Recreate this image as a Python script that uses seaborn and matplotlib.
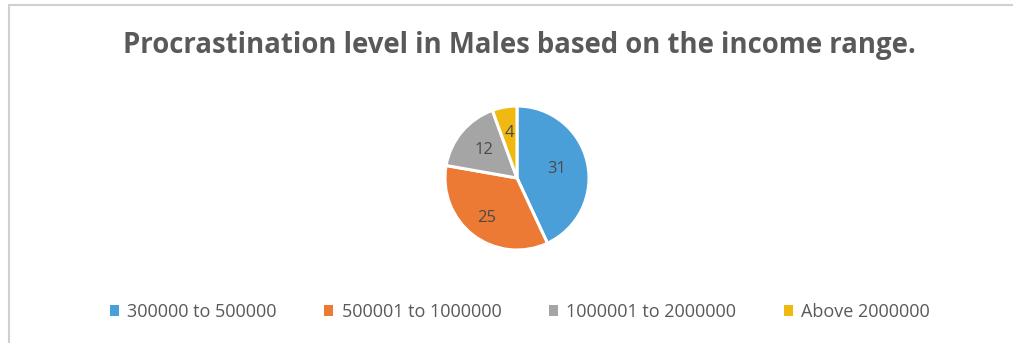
import matplotlib
matplotlib.use("Agg")
import numpy as np
import matplotlib.pyplot as plt
import seaborn as sns
from matplotlib.lines import Line2D
from matplotlib.patches import Patch

categories = ["300000 to 500000", "500001 to 1000000", "1000001 to 2000000", "Above 2000000"]
values = [31, 25, 12, 4]
colors = ["#4a9fd8", "#ec7a34", "#a5a5a5", "#f0b912"]
title = "Procrastination level in Males based on the income range."

sns.set_theme(style="white")
plt.rcParams['font.family'] = ['Open Sans', 'DejaVu Sans']

W, H = 1013, 343
fig = plt.figure(figsize=(W / 100, H / 100), dpi=100)
fig.patch.set_facecolor("white")

# border lines (top and left)
fig.add_artist(Line2D([9 / W, 1.0], [1 - 5 / H, 1 - 5 / H], color="#d0d0d0", lw=1.5))
fig.add_artist(Line2D([9 / W, 9 / W], [0, 1 - 5 / H], color="#d0d0d0", lw=1.5))

cx, cy, r = 517, 178, 72
ax = fig.add_axes([(cx - r) / W, (H - cy - r) / H, 2 * r / W, 2 * r / H])
wedges, texts = ax.pie(values, colors=colors, startangle=90, counterclock=False,
                       labels=[str(v) for v in values], labeldistance=0.62,
                       wedgeprops=dict(edgecolor="white", linewidth=2.2),
                       textprops=dict(color="#4a4a4a", fontsize=12))
# per-label radial placement (Excel "best fit" style)
label_r = [0.57, 0.7, 0.6, 0.64]
for w, t, lr in zip(wedges, texts, label_r):
    ang = np.deg2rad((w.theta1 + w.theta2) / 2)
    t.set_position((lr * np.cos(ang), lr * np.sin(ang)))
    t.set_ha("center")
    t.set_va("center")
ax.set_aspect("equal")
ax.set_xlim(-1, 1)
ax.set_ylim(-1, 1)
ax.axis("off")

fig.text(519 / W, 1 - 45 / H, title, ha="center", va="center", fontsize=19.8,
         fontweight="bold", color="#595959")

handles = [Patch(facecolor=c, edgecolor="none") for c in colors]
leg = fig.legend(handles, categories, loc="center", bbox_to_anchor=(520 / W, 1 - 312 / H),
                 ncol=4, frameon=False, fontsize=13, handlelength=0.5, handleheight=0.5,
                 handletextpad=0.45, columnspacing=2.65)
for t in leg.get_texts():
    t.set_color("#595959")

fig.savefig("out.png", dpi=100, facecolor="white")
